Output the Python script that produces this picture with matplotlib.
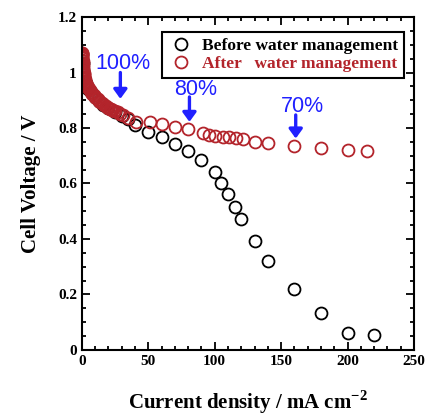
import matplotlib
matplotlib.use("Agg")
import matplotlib.pyplot as plt
from matplotlib.ticker import MultipleLocator

plt.rcParams["mathtext.fontset"] = "custom"
plt.rcParams["mathtext.rm"] = "Liberation Serif:bold"
plt.rcParams["mathtext.bf"] = "Liberation Serif:bold"

# Before water management
before_j = [0, 0.5, 1, 2, 3, 5, 7, 10, 13, 16, 20, 25, 30, 35, 40, 50, 60, 70, 80, 90,
            100, 105, 110, 115, 120, 130, 140, 160, 180, 200, 220]
before_v = [1.065, 1.035, 1.01, 0.98, 0.962, 0.94, 0.928, 0.912, 0.896, 0.884, 0.871, 0.857, 0.842,
            0.831, 0.811, 0.786, 0.766, 0.742, 0.717, 0.686, 0.641, 0.600, 0.561, 0.516,
            0.472, 0.394, 0.321, 0.219, 0.132, 0.062, 0.052]

# After water management
after_j = [0, 0.05, 0.1, 0.15, 0.2, 0.25, 0.3, 0.4, 0.5, 0.6, 0.7, 0.85, 1, 1.15, 1.3,
           1.45, 1.6, 1.8, 2, 2.25, 2.5, 2.75, 3, 3.5, 4, 4.5, 5, 5.5, 6, 7, 8, 9, 10,
           11, 12, 13, 14, 15, 16, 17, 18, 19, 20, 21, 22, 23, 24, 25, 27, 29, 31, 35, 41,
           51, 60, 70, 80, 91, 96, 100, 106, 111, 116, 121, 130, 140, 160, 180, 200, 215]
after_v = [1.072, 1.07, 1.067, 1.064, 1.06, 1.056, 1.052, 1.046, 1.04, 1.034, 1.028,
           1.02, 1.013, 1.006, 1.0, 0.995, 0.99, 0.985, 0.98, 0.975, 0.97, 0.966, 0.962,
           0.956, 0.951, 0.947, 0.943, 0.939, 0.936, 0.93, 0.924, 0.918, 0.913, 0.908,
           0.903, 0.898, 0.894, 0.890, 0.886, 0.882, 0.879, 0.876, 0.873, 0.87, 0.868,
           0.866, 0.863, 0.861, 0.857, 0.852, 0.847, 0.835, 0.823, 0.823, 0.814, 0.803,
           0.796, 0.781, 0.775, 0.771, 0.769, 0.766, 0.765, 0.759, 0.751, 0.747, 0.735,
           0.727, 0.721, 0.717]

# Annotations: label, arrow x, arrow top, arrow bottom, text x, text y
ann_labels = ["100%", "80%", "70%"]
ann_x = [29, 81, 161]
ann_top = [1.0, 0.912, 0.847]
ann_bot = [0.905, 0.822, 0.762]
ann_tx = [31, 86, 166]
ann_ty = [1.034, 0.94, 0.879]

red = "#b3242b"
blue = "#2020ff"

fig = plt.figure(figsize=(4.33, 4.16), dpi=100)
ax = fig.add_axes([0.189, 0.159, 0.767, 0.8])

ax.plot(before_j, before_v, "o", ms=8.6, mfc="none", mec="black", mew=1.3,
        label="Before water management")
ax.plot(after_j, after_v, "o", ms=8.6, mfc="none", mec=red, mew=1.3,
        label="After   water management")

for lab, x, t, b, tx, ty in zip(ann_labels, ann_x, ann_top, ann_bot, ann_tx, ann_ty):
    ax.annotate("", xy=(x, b), xytext=(x, t),
                arrowprops=dict(arrowstyle="-|>,head_width=0.4,head_length=0.55",
                                color=blue, lw=2.4, shrinkA=0, shrinkB=0))
    ax.text(tx, ty, lab, color=blue, fontsize=15.5, family="Liberation Sans",
            ha="center", va="center")

ax.set_xlim(0, 250)
ax.set_ylim(0, 1.2)
ax.xaxis.set_major_locator(MultipleLocator(50))
ax.xaxis.set_minor_locator(MultipleLocator(10))
ax.yaxis.set_minor_locator(MultipleLocator(0.05))
ax.set_yticks([0, 0.2, 0.4, 0.6, 0.8, 1.0, 1.2])
ax.set_yticklabels(["0", "0.2", "0.4", "0.6", "0.8", "1", "1.2"])
ax.tick_params(which="both", direction="in", top=True, right=True, width=1.3)
ax.tick_params(which="major", length=6)
ax.tick_params(which="minor", length=3)
for lbl in ax.get_xticklabels() + ax.get_yticklabels():
    lbl.set_family("Liberation Serif")
    lbl.set_fontweight("bold")
    lbl.set_fontsize(11)
for s in ax.spines.values():
    s.set_linewidth(1.5)

ax.set_xlabel("Current density / mA cm$^{-2}$", family="Liberation Serif",
              fontweight="bold", fontsize=15, labelpad=15)
ax.set_ylabel("Cell Voltage / V", family="Liberation Serif", fontweight="bold",
              fontsize=15, labelpad=12)

leg = ax.legend(loc="upper left", bbox_to_anchor=(0.241, 0.955), frameon=True,
                fancybox=False, edgecolor="black", framealpha=1, handletextpad=0.45,
                borderpad=0.35, labelspacing=0.08, handlelength=1.5, borderaxespad=0,
                prop=dict(family="Liberation Serif", weight="bold", size=12.5))
leg.get_frame().set_linewidth(1.5)
leg.get_texts()[1].set_color(red)

fig.savefig("out.png", dpi=100)
